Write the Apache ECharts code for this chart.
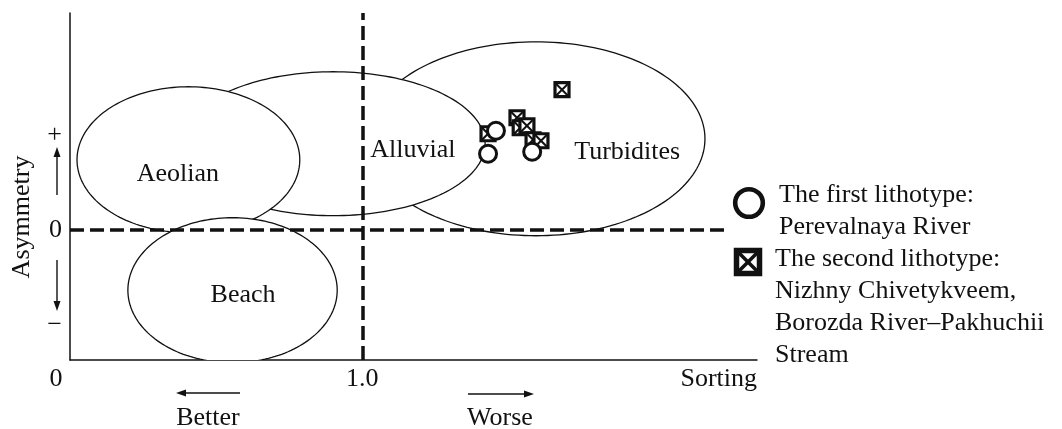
<!DOCTYPE html>
<html>
<head>
<meta charset="utf-8">
<script src="https://cdn.jsdelivr.net/npm/echarts@6/dist/echarts.min.js"></script>
<style>
  html, body { margin: 0; padding: 0; background: #fff; }
  #chart { width: 1062px; height: 429px; }
</style>
</head>
<body>
<div id="chart"></div>
<script>
const FONT = '"Liberation Serif", "Times New Roman", Times, serif';
const INK = '#111';

// Sedimentary environment fields, as ellipses in axis units (sorting, asymmetry).
// Listed from back to front: each later field is painted over the earlier ones.
const fieldNames   = ['Turbidites', 'Alluvial', 'Aeolian', 'Beach'];
const fieldCenterX = [1.594, 0.900, 0.405, 0.556];
const fieldCenterY = [0.957, 0.905, 0.736, -0.636];
const fieldRadiusX = [0.578, 0.520, 0.381, 0.358];
const fieldRadiusY = [1.020, 0.757, 0.768, 0.763];
const fieldLabelX  = [1.906, 1.173, 0.369, 0.592];
const fieldLabelY  = [0.820, 0.841, 0.589, -0.684];

// First lithotype: Perevalnaya River
const lithotype1Sorting   = [1.457, 1.430, 1.581];
const lithotype1Asymmetry = [1.041, 0.799, 0.820];

// Second lithotype: Nizhny Chivetykveem, Borozda River–Pakhuchii Stream
const lithotype2Sorting   = [1.683, 1.430, 1.529, 1.540, 1.563, 1.584, 1.611];
const lithotype2Asymmetry = [1.473, 1.010, 1.178, 1.073, 1.094, 0.947, 0.936];

// Axis ticks
const xTickValues = [0, 1];
const xTickLabels = ['0', '1.0'];
const yTickValues = [-1, 0, 1];
const yTickLabels = ['\u2212', '0', '+'];

const legendLines1 = ['The first lithotype:', 'Perevalnaya River'];
const legendLines2 = ['The second lithotype:', 'Nizhny Chivetykveem,', 'Borozda River\u2013Pakhuchii', 'Stream'];

const X_MAX = 2.35, Y_MIN = -1.37, Y_MAX = 2.28;
const ZERO_LINE_END = 2.25;

const chart = echarts.init(document.getElementById('chart'), null, { renderer: 'canvas' });

function renderField(params, api) {
  const i = params.dataIndex;
  const pts = [];
  const n = 180;
  for (let k = 0; k < n; k++) {
    const t = (k / n) * Math.PI * 2;
    pts.push(api.coord([
      fieldCenterX[i] + fieldRadiusX[i] * Math.cos(t),
      fieldCenterY[i] + fieldRadiusY[i] * Math.sin(t)
    ]));
  }
  const lp = api.coord([fieldLabelX[i], fieldLabelY[i]]);
  return {
    type: 'group',
    children: [
      { type: 'polygon', shape: { points: pts },
        style: { fill: '#fff', stroke: INK, lineWidth: 1.3 } },
      { type: 'text', x: lp[0], y: lp[1],
        style: { text: fieldNames[i], font: '26px ' + FONT, fill: INK,
                 align: 'center', verticalAlign: 'middle' } }
    ]
  };
}

function crossSquare(cx, cy, h, border, cross) {
  return [
    { type: 'rect', shape: { x: cx - h, y: cy - h, width: 2 * h, height: 2 * h },
      style: { fill: '#fff', stroke: INK, lineWidth: border } },
    { type: 'line', shape: { x1: cx - h, y1: cy - h, x2: cx + h, y2: cy + h },
      style: { stroke: INK, lineWidth: cross } },
    { type: 'line', shape: { x1: cx + h, y1: cy - h, x2: cx - h, y2: cy + h },
      style: { stroke: INK, lineWidth: cross } }
  ];
}

function renderSquare(params, api) {
  const p = api.coord([api.value(0), api.value(1)]);
  return { type: 'group', children: crossSquare(p[0], p[1], 7, 3.2, 2) };
}

function arrow(x1, y1, x2, y2) {
  const a = Math.atan2(y2 - y1, x2 - x1);
  const len = 10, half = 3.5;
  const bx = x2 - len * Math.cos(a), by = y2 - len * Math.sin(a);
  const nx = -Math.sin(a) * half, ny = Math.cos(a) * half;
  return {
    type: 'group',
    children: [
      { type: 'line', shape: { x1: x1, y1: y1, x2: bx, y2: by },
        style: { stroke: INK, lineWidth: 1.4 } },
      { type: 'polygon', shape: { points: [[x2, y2], [bx + nx, by + ny], [bx - nx, by - ny]] },
        style: { fill: INK } }
    ]
  };
}

function txt(x, y, text, extra) {
  return Object.assign({
    type: 'text', x: x, y: y,
    style: { text: text, font: '26px ' + FONT, fill: INK, align: 'center', verticalAlign: 'middle' }
  }, extra || {});
}

const legendText = [];
legendLines1.forEach((s, k) => legendText.push(
  txt(779, 195 + k * 32, s, { style: { text: s, font: '26px ' + FONT, fill: INK, align: 'left', verticalAlign: 'middle' } })));
legendLines2.forEach((s, k) => legendText.push(
  txt(775, 259 + k * 32, s, { style: { text: s, font: '26px ' + FONT, fill: INK, align: 'left', verticalAlign: 'middle' } })));

const option = {
  backgroundColor: '#fff',
  animation: false,
  grid: { left: 70, right: 305, top: 13, bottom: 69 },
  xAxis: {
    type: 'value', min: 0, max: X_MAX,
    splitLine: { show: false },
    axisTick: { show: false },
    axisLine: { show: true, onZero: false, lineStyle: { color: INK, width: 1.5 } },
    axisLabel: {
      customValues: xTickValues,
      margin: 6,
      formatter: v => {
        const i = xTickValues.indexOf(v);
        if (i < 0) return '';
        return i === 0 ? '{o|' + xTickLabels[i] + '}' : xTickLabels[i];
      },
      color: INK, fontFamily: FONT, fontSize: 26, lineHeight: 26,
      rich: { o: { fontFamily: FONT, fontSize: 26, lineHeight: 26, color: INK, padding: [0, 28, 0, 0] } }
    },
    name: 'Sorting',
    nameLocation: 'end',
    nameGap: 0,
    nameTextStyle: { color: INK, fontFamily: FONT, fontSize: 26, lineHeight: 26,
                     align: 'right', verticalAlign: 'top', padding: [6, 0, 0, 0] }
  },
  yAxis: {
    type: 'value', min: Y_MIN, max: Y_MAX,
    splitLine: { show: false },
    axisTick: { show: false },
    axisLine: { show: true, onZero: false, lineStyle: { color: INK, width: 1.5 } },
    axisLabel: {
      customValues: yTickValues,
      margin: 8,
      formatter: v => {
        const i = yTickValues.indexOf(v);
        return i < 0 ? '' : yTickLabels[i];
      },
      color: INK, fontFamily: FONT, fontSize: 26
    }
  },
  series: [
    {
      type: 'custom',
      name: 'fields',
      clip: true,
      z: 1,
      renderItem: renderField,
      encode: { x: 0, y: 1 },
      data: fieldNames.map((n, i) => [fieldCenterX[i], fieldCenterY[i]]),
      silent: true
    },
    {
      type: 'line',
      name: 'reference lines',
      data: [],
      z: 3,
      markLine: {
        silent: true,
        symbol: ['none', 'none'],
        label: { show: false },
        lineStyle: { color: INK, width: 3.5, type: [14, 6] },
        data: [
          { xAxis: 1 },
          [ { coord: [0, 0] }, { coord: [ZERO_LINE_END, 0] } ]
        ]
      }
    },
    {
      type: 'custom',
      name: 'The second lithotype',
      z: 4,
      renderItem: renderSquare,
      encode: { x: 0, y: 1 },
      data: lithotype2Sorting.map((x, i) => [x, lithotype2Asymmetry[i]])
    },
    {
      type: 'scatter',
      name: 'The first lithotype',
      z: 5,
      symbol: 'circle',
      symbolSize: 17,
      itemStyle: { color: '#fff', borderColor: INK, borderWidth: 3, opacity: 1 },
      data: lithotype1Sorting.map((x, i) => [x, lithotype1Asymmetry[i]])
    }
  ],
  graphic: [
    txt(22, 217, 'Asymmetry', { rotation: Math.PI / 2 }),
    arrow(57, 195, 57, 147),
    arrow(57, 260, 57, 311),
    arrow(240, 393, 176, 393),
    arrow(468, 394, 534, 394),
    txt(208, 418, 'Better'),
    txt(500, 418, 'Worse'),
    { type: 'circle', shape: { cx: 749, cy: 203, r: 13.8 },
      style: { fill: '#fff', stroke: INK, lineWidth: 4.6 } },
    { type: 'group', children: crossSquare(748, 262, 11.5, 5.5, 3.5) }
  ].concat(legendText)
};

chart.setOption(option);
</script>
</body>
</html>
